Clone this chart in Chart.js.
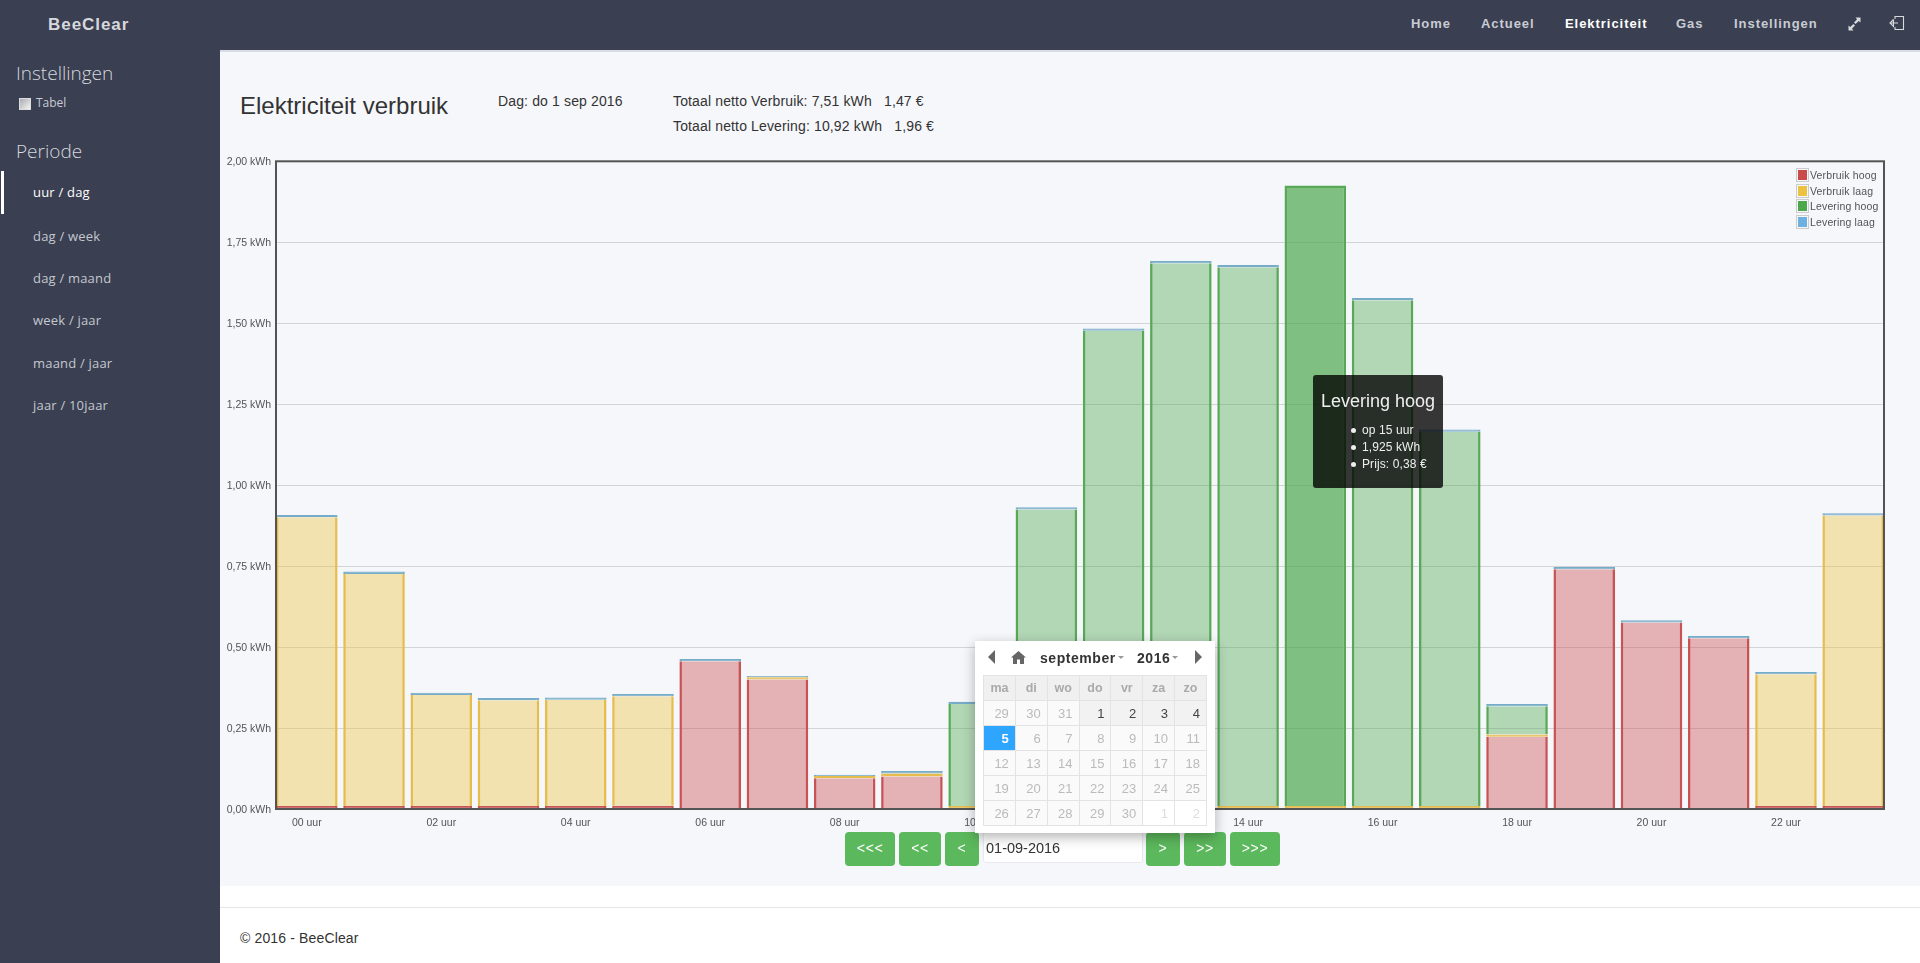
<!DOCTYPE html>
<html lang="nl">
<head>
<meta charset="utf-8">
<title>BeeClear</title>
<script src="https://cdn.jsdelivr.net/npm/chart.js@4/dist/chart.umd.min.js"></script>
<style>
  html, body { margin: 0; padding: 0; width: 1920px; height: 963px; overflow: hidden; background: #fff; font-family: "Liberation Sans", Arial, sans-serif; color: #333; }
  .abs { position: absolute; white-space: nowrap; }
  #nav { left: 0; top: 0; width: 1920px; height: 50px; background: #3a3f51; }
  #navline { left: 220px; top: 50px; width: 1700px; height: 2px; background: #d9dce2; }
  #side { left: 0; top: 50px; width: 220px; height: 913px; background: #3a3f51; }
  #content { left: 220px; top: 52px; width: 1700px; height: 834px; background: #f6f7fb; }
  #footline { left: 220px; top: 907px; width: 1700px; height: 1px; background: #e4e5e7; }
  .navitem { top: 14px; line-height: 20px; font-size: 13px; font-weight: bold; letter-spacing: .95px; color: #c8ccd4; }
  .sideh { font-family: "Open Sans"; font-size: 19px; font-weight: 300; color: #d5d8de; line-height: 24px; left: 16px; }
  .sideitem { font-family: "Open Sans"; font-size: 13px; color: #c4c8d0; line-height: 18px; left: 33px; letter-spacing: .2px; }
  .txt { font-size: 14px; line-height: 20px; color: #333; letter-spacing: .14px; }
  #wrap { left: 220px; top: 150px; width: 1670px; height: 690px; }
  #legend { left: 1796px; top: 168px; font-size: 10.5px; color: #545454; letter-spacing: .15px; }
  #legend div { height: 15.7px; line-height: 15px; }
  #legend i { display: inline-block; width: 9px; height: 10px; border: 2px solid #f6f7fb; outline: 1px solid #ccc; outline-offset: -1px; vertical-align: top; margin-right: 1px; box-sizing: content-box; }
  #tip { left: 1313px; top: 375px; width: 130px; height: 113px; background: rgba(0,0,0,.78); border-radius: 3px; color: #eee; }
  #tip b { position: absolute; left: 0; width: 130px; top: 15px; text-align: center; font-weight: normal; font-size: 18px; line-height: 22px; }
  #tip ul { position: absolute; left: 49px; top: 47px; margin: 0; padding: 0; list-style: none; font-size: 12px; line-height: 17px; letter-spacing: .1px; }
  #tip li::before { content: ""; display: inline-block; width: 5px; height: 5px; border-radius: 50%; background: #eee; margin: 0 6px 1px -11px; }
  .btn { top: 832px; height: 34px; line-height: 32px; background: #5cb85c; border-radius: 4px; color: #fff; font-size: 14px; text-align: center; letter-spacing: .6px; }
  #date { left: 983px; top: 832px; width: 156px; height: 29px; background: #fff; border: 1px solid #e8e9ec; border-radius: 3px; padding-left: 2px; font-size: 14.5px; line-height: 31px; color: #333; }
  #cal { left: 975px; top: 641px; width: 240px; height: 192px; background: #fff; box-shadow: 0 4px 12px rgba(0,0,0,.3); }
  #cal .h { position: absolute; top: 7px; line-height: 20px; font-size: 14px; font-weight: bold; letter-spacing: .55px; color: #333; }
  #cal table { position: absolute; left: 8px; top: 34px; border-collapse: collapse; table-layout: fixed; width: 224px; }
  #cal td, #cal th { border: 1px solid #e3e3e3; height: 25px; padding: 0 6px 0 0; font-size: 13px; text-align: right; color: #bbb; font-weight: normal; background: #fafafa; box-sizing: border-box; }
  #cal th { background: #f0f0f0; font-weight: bold; color: #aaa; text-align: center; padding: 0; font-size: 12.5px; }
  #cal td.cur { background: #f2f2f2; color: #444; }
  #cal td.sel { background: #2ea5ff; color: #fff; font-weight: bold; }
  #cal td.nxt { background: #fff; color: #ddd; }
</style>
</head>
<body>
<div class="abs" id="nav"></div>
<div class="abs" id="side"></div>
<div class="abs" id="content"></div>
<div class="abs" id="navline"></div>
<div class="abs" id="footline"></div>

<div class="abs" style="left:48px;top:14px;line-height:22px;font-size:17px;font-weight:bold;letter-spacing:.95px;color:#d6d8dd">BeeClear</div>
<div id="navitems"></div>
<svg class="abs" style="left:1848px;top:17px" width="13" height="14" viewBox="0 0 13 14" fill="#d8dade"><path d="M7.5 0.5H12.5V5.5L10.7 3.9L7.6 7L6 5.4L9.1 2.3ZM5.5 13.5H0.5V8.5L2.3 10.1L5.4 7L7 8.6L3.9 11.7Z"/></svg>
<svg class="abs" style="left:1889px;top:15px" width="16" height="18" viewBox="0 0 16 18" fill="none" stroke="#d8dade" stroke-width="1.1"><path d="M6 4V1.5H14.5V14.5H6V12M1 8H9M4.5 4.5L1 8L4.5 11.5V4.5"/></svg>

<div class="abs sideh" style="top:61px">Instellingen</div>
<div class="abs" style="left:19px;top:98px;width:12px;height:12px;background:linear-gradient(135deg,#a9abb1,#f4f4f4);border:1px solid #ddd;box-sizing:border-box"></div>
<div class="abs" style="left:36px;top:94px;font-family:'Open Sans';font-size:12px;line-height:18px;color:#c8ccd4">Tabel</div>
<div class="abs sideh" style="top:139px">Periode</div>
<div class="abs" style="left:1px;top:171px;width:3px;height:43px;background:#fff"></div>
<div id="sideitems"></div>

<div class="abs" style="left:240px;top:90px;font-size:24px;line-height:32px;color:#333">Elektriciteit verbruik</div>
<div class="abs txt" style="left:498px;top:91px">Dag: do 1 sep 2016</div>
<div class="abs txt" style="left:673px;top:91px">Totaal netto Verbruik: 7,51 kWh &nbsp; 1,47 €</div>
<div class="abs txt" style="left:673px;top:116px">Totaal netto Levering: 10,92 kWh &nbsp; 1,96 €</div>

<div class="abs" id="wrap"><canvas id="energyChart" width="1670" height="690"></canvas></div>
<div class="abs" id="legend"></div>
<div class="abs" id="tip"><b></b><ul></ul></div>

<div id="buttons"></div>
<div class="abs" id="date">01-09-2016</div>

<div class="abs" id="cal">
  <svg style="position:absolute;left:13px;top:9px" width="8" height="14"><path d="M7 0V14L0 7Z" fill="#666"/></svg>
  <svg style="position:absolute;left:36px;top:10px" width="15" height="13" viewBox="0 0 15 13" fill="#666"><path d="M7.5 0L15 6.5H13V13H9V8.5H6V13H2V6.5H0Z"/></svg>
  <div class="h" style="left:65px">september</div>
  <svg style="position:absolute;left:143px;top:15px" width="6" height="4"><path d="M0 0H6L3 3Z" fill="#999"/></svg>
  <div class="h" style="left:162px">2016</div>
  <svg style="position:absolute;left:197px;top:15px" width="6" height="4"><path d="M0 0H6L3 3Z" fill="#999"/></svg>
  <svg style="position:absolute;left:220px;top:9px" width="8" height="14"><path d="M0 0V14L7 7Z" fill="#666"/></svg>
  <table id="calTable"></table>
</div>

<footer class="abs txt" style="left:240px;top:928px">© 2016 - BeeClear</footer>

<script>
const hours = ["00", "01", "02", "03", "04", "05", "06", "07", "08", "09", "10", "11",
               "12", "13", "14", "15", "16", "17", "18", "19", "20", "21", "22", "23"];

const verbruikHoog = [0.009, 0.009, 0.009, 0.009, 0.009, 0.010, 0.456, 0.400, 0.095, 0.100, 0, 0,
                      0, 0, 0, 0, 0, 0, 0.223, 0.740, 0.576, 0.527, 0.009, 0.009];
const verbruikLaag = [0.892, 0.717, 0.343, 0.327, 0.328, 0.338, 0, 0.007, 0.007, 0.010, 0.009, 0.009,
                      0.009, 0.009, 0.009, 0.009, 0.009, 0.009, 0.007, 0, 0, 0, 0.407, 0.897];
const leveringHoog = [0, 0, 0, 0, 0, 0, 0, 0, 0, 0, 0.315, 0.916,
                      1.468, 1.676, 1.664, 1.916, 1.562, 1.156, 0.087, 0, 0, 0, 0, 0];
const leveringLaag = [0.007, 0.007, 0.007, 0.007, 0.007, 0.007, 0.007, 0.004, 0.004, 0.007, 0.007, 0.007,
                      0.007, 0.007, 0.007, 0, 0.007, 0.007, 0.007, 0.007, 0.007, 0.007, 0.007, 0.007];

const seriesNames = ["Verbruik hoog", "Verbruik laag", "Levering hoog", "Levering laag"];
const seriesColors = ["203,75,75", "237,194,64", "77,167,77", "110,176,222"];
const seriesBorders = ["#c85355", "#e6bd4c", "#58a858", "#76acc8"];
const seriesValues = [verbruikHoog, verbruikLaag, leveringHoog, leveringLaag];
const hoverHour = 15;

const tipTitle = "Levering hoog";
const tipLines = ["op 15 uur", "1,925 kWh", "Prijs: 0,38 €"];

const navLabels = [["Home", 1411], ["Actueel", 1481], ["Elektriciteit", 1565], ["Gas", 1676], ["Instellingen", 1734]];
const periods = ["uur / dag", "dag / week", "dag / maand", "week / jaar", "maand / jaar", "jaar / 10jaar"];
const periodTops = [183, 227, 269, 311, 354, 396];
const navButtons = [["<<<", 845, 50], ["<<", 899, 42], ["<", 945, 34], [">", 1146, 34], [">>", 1184, 42], [">>>", 1230, 50]];

const weekDays = ["ma", "di", "wo", "do", "vr", "za", "zo"];
const calWeeks = [[29, 30, 31, 1, 2, 3, 4], [5, 6, 7, 8, 9, 10, 11], [12, 13, 14, 15, 16, 17, 18],
                  [19, 20, 21, 22, 23, 24, 25], [26, 27, 28, 29, 30, 1, 2]];

// page parts around the chart
document.getElementById("navitems").innerHTML = navLabels.map(([t, x]) =>
  `<div class="abs navitem" style="left:${x}px;${t === "Elektriciteit" ? "color:#fff" : ""}">${t}</div>`).join("");
document.getElementById("sideitems").innerHTML = periods.map((t, i) =>
  `<div class="abs sideitem" style="top:${periodTops[i]}px;${i === 0 ? "color:#fff" : ""}">${t}</div>`).join("");
document.getElementById("buttons").innerHTML = navButtons.map(([t, x, w]) =>
  `<div class="abs btn" style="left:${x}px;width:${w}px">${t.replace(/</g, "&lt;")}</div>`).join("");
document.getElementById("legend").innerHTML = seriesNames.map((n, i) =>
  `<div><i style="background:rgb(${seriesColors[i]})"></i>${n}</div>`).join("");
document.querySelector("#tip b").textContent = tipTitle;
document.querySelector("#tip ul").innerHTML = tipLines.map(t => `<li>${t}</li>`).join("");

let calHtml = "<tr>" + weekDays.map(d => `<th>${d}</th>`).join("") + "</tr>";
calWeeks.forEach((week, r) => {
  calHtml += "<tr>" + week.map((d, c) => {
    let cls = "";
    if (r === 0 && c >= 3) cls = "cur";
    if (r === 1 && c === 0) cls = "sel";
    if (r === 4 && c >= 5) cls = "nxt";
    return `<td class="${cls}">${d}</td>`;
  }).join("") + "</tr>";
});
document.getElementById("calTable").innerHTML = calHtml;

// frame round the plot, same as the grid border in the original
const plotFrame = {
  id: "plotFrame",
  afterDatasetsDraw(chart) {
    const { ctx, chartArea: a } = chart;
    ctx.save();
    ctx.strokeStyle = "#545454";
    ctx.lineWidth = 2;
    ctx.strokeRect(a.left, a.top, a.right - a.left, a.bottom - a.top);
    ctx.restore();
  }
};

const thinLayer = 0.02;

// no top line on a thick layer when another layer sits on it
function layerBorder(s, i) {
  const covered = seriesValues.slice(s + 1).some(v => v[i] > 0);
  const thick = seriesValues[s][i] > thinLayer;
  return { left: 2.5, right: 2.5, bottom: 0, top: covered && thick ? 0 : 2.5 };
}

// chart.js clamps the border to half the bar height, so thin layers get a solid fill
function layerFill(s, i) {
  if (seriesValues[s][i] <= thinLayer) return seriesBorders[s];
  return `rgba(${seriesColors[s]},${i === hoverHour ? 0.7 : 0.4})`;
}

const ctx = document.getElementById("energyChart").getContext("2d");

const energyChart = new Chart(ctx, {
  type: "bar",
  data: {
    datasets: seriesNames.map((name, s) => ({
      label: name,
      data: seriesValues[s].map((v, i) => ({ x: i, y: v })),
      backgroundColor: c => layerFill(s, c.dataIndex),
      borderColor: seriesBorders[s],
      borderWidth: c => layerBorder(s, c.dataIndex),
      categoryPercentage: 1,
      barPercentage: 0.916
    }))
  },
  plugins: [plotFrame],
  options: {
    responsive: false,
    animation: false,
    layout: { padding: { top: 11, right: 6 } },
    plugins: { legend: { display: false }, tooltip: { enabled: false } },
    scales: {
      x: {
        type: "linear",
        stacked: true,
        min: -0.458,
        max: 23.458,
        offset: false,
        grid: { display: false },
        border: { display: false },
        afterFit(scale) { scale.height = 31; },
        ticks: {
          stepSize: 2,
          includeBounds: false,
          autoSkip: false,
          maxRotation: 0,
          padding: 0,
          color: "#545454",
          font: { family: "Liberation Sans", size: 10.5 },
          callback: v => hours[v] + " uur"
        }
      },
      y: {
        stacked: true,
        min: 0,
        max: 2,
        grid: { color: "#d2d4d8", lineWidth: 1, drawTicks: false },
        border: { display: false },
        afterFit(scale) { scale.width = 56; },
        ticks: {
          stepSize: 0.25,
          padding: 5,
          labelOffset: 1,
          color: "#545454",
          font: { family: "Liberation Sans", size: 10.5 },
          callback: v => v.toFixed(2).replace(".", ",") + " kWh"
        }
      }
    }
  }
});
</script>
</body>
</html>
